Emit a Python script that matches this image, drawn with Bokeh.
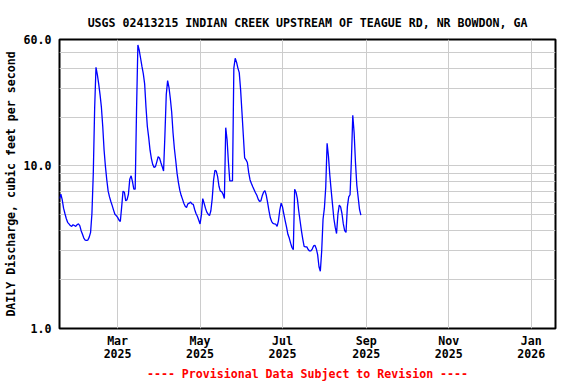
import pandas as pd
from bokeh.plotting import figure
from bokeh.models import Range1d, FixedTicker, PrintfTickFormatter
from bokeh.embed import file_html
from bokeh.resources import INLINE

# ---------------- data ----------------
start_date = "2025-01-17"
flow = [
    6.3, 6.7, 6.2, 5.5, 5.1, 4.75, 4.5, 4.4, 4.3, 4.25,
    4.35, 4.3, 4.25, 4.35, 4.4, 4.3, 4.0, 3.8, 3.6, 3.5,
    3.48, 3.5, 3.65, 3.9, 5.1, 9.0, 22.5, 40.5, 36.5, 32,
    27.5, 23, 17.5, 12.5, 9.9, 8.2, 7.0, 6.45, 6.05, 5.7,
    5.35, 5.05, 4.95, 4.83, 4.65, 4.55, 5.6, 7.0, 6.9, 6.1,
    6.2, 6.7, 8.3, 8.7, 8.0, 7.2, 7.2, 22, 55.5, 51.5,
    46, 41, 37, 32, 23, 17.5, 15, 12.5, 11.1, 10.2,
    9.8, 9.9, 10.6, 11.4, 11.2, 10.5, 9.9, 9.3, 15.5, 27.5,
    33.5, 30.5, 26, 21.5, 16, 12.8, 10.8, 9.0, 7.9, 7.1,
    6.6, 6.25, 5.9, 5.65, 5.55, 5.85, 5.9, 6.0, 5.85, 5.8,
    5.4, 5.1, 4.9, 4.65, 4.4, 5.0, 6.3, 5.9, 5.5, 5.2,
    5.05, 4.95, 5.3, 6.3, 8.2, 9.4, 9.3, 8.6, 7.5, 7.0,
    6.95, 6.7, 6.3, 17.2, 14.5, 10.5, 8.1, 8.1, 8.1, 40,
    46, 43.5, 40, 37.5, 29.5, 21.5, 15.5, 11.2, 10.9, 10.5,
    9.1, 8.2, 7.8, 7.45, 7.15, 6.85, 6.6, 6.25, 6.05, 6.1,
    6.55, 6.9, 7.05, 6.6, 5.95, 5.3, 4.8, 4.55, 4.43, 4.4,
    4.38, 4.25, 4.6, 5.35, 5.9, 5.6, 5.05, 4.6, 4.2, 3.8,
    3.6, 3.35, 3.15, 3.05, 7.2, 6.9, 6.3, 5.3, 4.6, 4.0,
    3.55, 3.2, 3.18, 3.18, 3.06, 3.0, 3.0, 3.08, 3.22, 3.25,
    3.1, 2.85, 2.4, 2.25, 3.0, 4.7, 5.5, 7.4, 13.8, 11.5,
    8.8, 7.1, 5.8, 4.75, 4.2, 3.84, 5.05, 5.75, 5.6, 5.1,
    4.4, 4.0, 3.9, 5.6, 6.45, 6.65, 11, 20.5, 16, 10.5,
    7.6, 6.4, 5.4, 4.98,
]
x_start = "2025-01-17"
x_end = "2026-01-19"
x_tick_dates = ["2025-03-01", "2025-05-01", "2025-07-01",
                "2025-09-01", "2025-11-01", "2026-01-01"]
x_tick_labels = ["Mar\n2025", "May\n2025", "Jul\n2025",
                 "Sep\n2025", "Nov\n2025", "Jan\n2026"]
y_ticks = [1, 10, 60]
y_grid = [2, 3, 4, 5, 6, 7, 8, 9, 10, 20, 30, 40, 50]
title_text = "USGS 02413215 INDIAN CREEK UPSTREAM OF TEAGUE RD, NR BOWDON, GA"
y_label = "DAILY Discharge, cubic feet per second"
footer_text = "---- Provisional Data Subject to Revision ----"

# ---------------- figure ----------------
dates = pd.date_range(start_date, periods=len(flow), freq="D")
tick_ms = [int(pd.Timestamp(d).value // 10**6) for d in x_tick_dates]

FONT = "DejaVu Sans Mono"
FS = "11.6px"

p = figure(width=576, height=384,
           x_axis_type="datetime", y_axis_type="log",
           x_range=Range1d(pd.Timestamp(x_start), pd.Timestamp(x_end)),
           y_range=Range1d(1, 60),
           output_backend="svg", toolbar_location=None,
           min_border_left=59, min_border_right=21,
           min_border_top=39, min_border_bottom=55)

p.background_fill_color = "white"
p.border_fill_color = "white"
p.outline_line_color = "black"
p.outline_line_width = 2

# title
p.title.text = title_text
p.title.align = "center"
p.title.text_font = FONT
p.title.text_font_size = FS
p.title.text_font_style = "bold"
p.title.text_color = "black"
p.title.standoff = 20

# grids
p.xgrid.ticker = FixedTicker(ticks=tick_ms)
p.ygrid.ticker = FixedTicker(ticks=y_grid)
for g in (p.xgrid, p.ygrid):
    g.grid_line_color = "#cccccc"
    g.grid_line_width = 1

# axes
for ax in (p.xaxis, p.yaxis):
    ax.axis_line_color = None
    ax.major_tick_in = 0
    ax.major_tick_out = 0
    ax.minor_tick_in = 0
    ax.minor_tick_out = 0
    ax.major_label_text_font = FONT
    ax.major_label_text_font_size = FS
    ax.major_label_text_font_style = "bold"
    ax.major_label_text_color = "black"
    ax.axis_label_text_font = FONT
    ax.axis_label_text_font_size = FS
    ax.axis_label_text_font_style = "bold"

p.xaxis.ticker = FixedTicker(ticks=tick_ms)
p.xaxis.major_label_overrides = dict(zip(tick_ms, x_tick_labels))
p.xaxis.major_label_standoff = 5
p.xaxis.major_label_text_line_height = 0.98
p.xaxis.axis_label = footer_text
p.xaxis.axis_label_text_color = "red"
p.xaxis.axis_label_standoff = 3

p.yaxis.ticker = FixedTicker(ticks=y_ticks)
p.yaxis.formatter = PrintfTickFormatter(format="%.1f")
p.yaxis.major_label_standoff = 8
p.yaxis.axis_label = y_label
p.yaxis.axis_label_text_color = "black"
p.yaxis.axis_label_standoff = 3

p.line(dates, flow, line_color="blue", line_width=1.3)

open("out.html", "w").write(file_html(p, INLINE))
